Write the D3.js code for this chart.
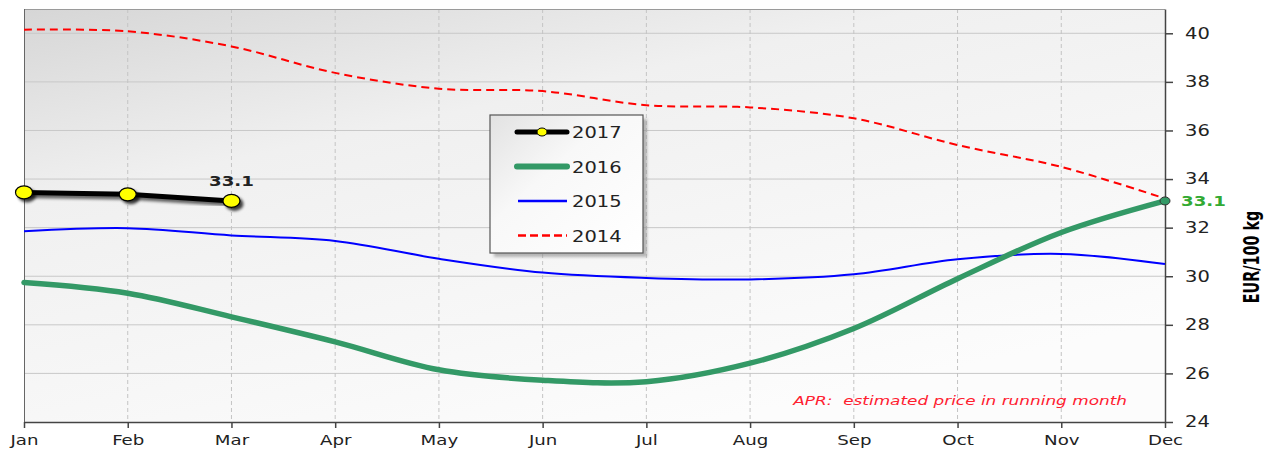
<!DOCTYPE html>
<html>
<head>
<meta charset="utf-8">
<script src="https://cdn.jsdelivr.net/npm/d3@7"></script>
<style>
  body { margin: 0; background: #fff; }
  text { font-family: "DejaVu Sans", Verdana, sans-serif; }
</style>
</head>
<body>
<div id="chart"></div>
<script>
const width = 1266
const height = 450
const sx = 1.3 // the original is stretched sideways

const months = ['Jan', 'Feb', 'Mar', 'Apr', 'May', 'Jun', 'Jul', 'Aug', 'Sep', 'Oct', 'Nov', 'Dec'];
const yTicks = [24, 26, 28, 30, 32, 34, 36, 38, 40];
const v2014 = [40.15, 40.08, 39.46, 38.37, 37.72, 37.62, 37.04, 36.95, 36.5, 35.4, 34.5, 33.2];
const v2015 = [31.85, 31.98, 31.68, 31.45, 30.72, 30.15, 29.93, 29.87, 30.08, 30.7, 30.92, 30.5];
const v2016 = [29.74, 29.3, 28.33, 27.3, 26.15, 25.72, 25.66, 26.42, 27.85, 29.9, 31.8, 33.1];
const v2017 = [33.45, 33.37, 33.1];
const legendYears = ['2017', '2016', '2015', '2014'];

const margin = {top: 9, right: 101, bottom: 28, left: 24};

const svg = d3.select('#chart').append('svg').attr('width', width).attr('height', height);

const x = d3.scalePoint().domain(months).range([margin.left, width - margin.right]);
const y = d3.scaleLinear().domain([24, 41]).range([height - margin.bottom, margin.top]);

function stretch(sel, tx, ty) {
  sel.attr('x', 0).attr('y', 0)
    .attr('transform', 'translate(' + tx + ',' + ty + ') scale(' + sx + ',1)');
}

const defs = svg.append('defs');
const grad = defs.append('linearGradient').attr('id', 'bg')
  .attr('x1', '0%').attr('y1', '0%').attr('x2', '60%').attr('y2', '100%');
grad.append('stop').attr('offset', '0%').attr('stop-color', '#d6d6d6');
grad.append('stop').attr('offset', '35%').attr('stop-color', '#f0f0f0');
grad.append('stop').attr('offset', '100%').attr('stop-color', '#fcfcfc');

const lgrad = defs.append('linearGradient').attr('id', 'lbg')
  .attr('x1', '0%').attr('y1', '0%').attr('x2', '100%').attr('y2', '100%');
lgrad.append('stop').attr('offset', '0%').attr('stop-color', '#e2e2e2');
lgrad.append('stop').attr('offset', '40%').attr('stop-color', '#f8f8f8');
lgrad.append('stop').attr('offset', '100%').attr('stop-color', '#ffffff');

const blur = defs.append('filter').attr('id', 'blur').attr('x', '-20%').attr('y', '-20%').attr('width', '140%').attr('height', '140%');
blur.append('feGaussianBlur').attr('stdDeviation', 1.5);

const x0 = x('Jan'), x1 = x('Dec');
const yTop = y(41), yBot = y(24);

// plot background
svg.append('rect')
  .attr('x', x0).attr('y', yTop)
  .attr('width', x1 - x0).attr('height', yBot - yTop)
  .attr('fill', 'url(#bg)');

// grid
svg.append('g').selectAll('line')
  .data(yTicks.slice(1))
  .enter().append('line')
  .attr('x1', x0).attr('x2', x1)
  .attr('y1', d => y(d)).attr('y2', d => y(d))
  .attr('stroke', '#c8c8c8').attr('stroke-width', 1);

svg.append('g').selectAll('line')
  .data(months.slice(1, -1))
  .enter().append('line')
  .attr('x1', d => x(d)).attr('x2', d => x(d))
  .attr('y1', yTop).attr('y2', yBot)
  .attr('stroke', '#c4c4c4').attr('stroke-width', 1)
  .attr('stroke-dasharray', '4,3');

// frame top + left
svg.append('line').attr('x1', x0).attr('x2', x1).attr('y1', yTop + 0.5).attr('y2', yTop + 0.5)
  .attr('stroke', '#9a9a9a');
svg.append('line').attr('x1', x0 + 0.5).attr('x2', x0 + 0.5).attr('y1', yTop).attr('y2', yBot)
  .attr('stroke', '#666');

// axes
const xAxis = svg.append('g')
  .attr('transform', 'translate(0,' + yBot + ')')
  .call(d3.axisBottom(x).tickSizeInner(6).tickSizeOuter(0).tickPadding(6));
xAxis.select('.domain').attr('stroke', '#444').attr('stroke-width', 1.5);
xAxis.selectAll('.tick line').attr('stroke', '#444').attr('stroke-width', 1.5);
xAxis.selectAll('text').style('font-size', '14px').attr('fill', '#222')
  .attr('dy', null).attr('y', 23)
  .attr('transform', 'scale(' + sx + ',1)');

const yAxis = svg.append('g')
  .attr('transform', 'translate(' + x1 + ',0)')
  .call(d3.axisRight(y).tickValues(yTicks).tickSizeInner(8).tickSizeOuter(0));
yAxis.select('.domain').attr('stroke', '#444').attr('stroke-width', 1.5);
yAxis.selectAll('.tick line').attr('stroke', '#444').attr('stroke-width', 1.5);
yAxis.selectAll('text').style('font-size', '15px').attr('fill', '#222')
  .attr('x', 20 / sx)
  .attr('transform', 'scale(' + sx + ',1)');

svg.append('text')
  .attr('transform', 'translate(1259,257) rotate(-90) scale(1,' + sx + ')')
  .attr('text-anchor', 'middle')
  .style('font-family', '"DejaVu Sans Condensed", "DejaVu Sans", sans-serif')
  .style('font-size', '16px').style('font-weight', 'bold')
  .text('EUR/100 kg');

const line = d3.line()
  .x((d, i) => x(months[i]))
  .y(d => y(d))
  .curve(d3.curveCatmullRom.alpha(0.5));

const straight = d3.line()
  .x((d, i) => x(months[i]))
  .y(d => y(d));

// series
svg.append('path').datum(v2014)
  .attr('d', line).attr('fill', 'none')
  .attr('stroke', '#ff0000').attr('stroke-width', 2).attr('stroke-dasharray', '8,5');

svg.append('path').datum(v2015)
  .attr('d', line).attr('fill', 'none')
  .attr('stroke', '#0000ff').attr('stroke-width', 2);

svg.append('path').datum(v2016)
  .attr('d', line).attr('fill', 'none')
  .attr('stroke', '#339966').attr('stroke-width', 5.5).attr('stroke-linecap', 'round');

// green end marker
svg.append('ellipse')
  .attr('cx', x('Dec')).attr('cy', y(v2016[11])).attr('rx', 5).attr('ry', 4)
  .attr('fill', '#339966').attr('stroke', '#333').attr('stroke-width', 1);

svg.append('text')
  .attr('fill', '#33aa33').style('font-size', '14px').style('font-weight', 'bold')
  .text('33.1')
  .call(stretch, x('Dec') + 16, y(v2016[11]) + 5);

// 2017 with shadow
const g17 = svg.append('g');
g17.append('path').datum(v2017)
  .attr('d', straight).attr('fill', 'none')
  .attr('transform', 'translate(3,3)')
  .attr('stroke', '#000').attr('stroke-opacity', 0.6).attr('stroke-width', 5)
  .attr('filter', 'url(#blur)');
g17.selectAll('ellipse.sh').data(v2017).enter().append('ellipse')
  .attr('class', 'sh')
  .attr('cx', (d, i) => x(months[i]) + 3).attr('cy', d => y(d) + 3).attr('rx', 9).attr('ry', 7)
  .attr('fill', '#000').attr('opacity', 0.75).attr('filter', 'url(#blur)');
g17.append('path').datum(v2017)
  .attr('d', straight).attr('fill', 'none')
  .attr('stroke', '#000').attr('stroke-width', 5);
g17.selectAll('ellipse.pt').data(v2017).enter().append('ellipse')
  .attr('class', 'pt')
  .attr('cx', (d, i) => x(months[i])).attr('cy', d => y(d)).attr('rx', 8.5).attr('ry', 6.5)
  .attr('fill', '#ffff00').attr('stroke', '#000').attr('stroke-width', 1.2);

svg.append('text')
  .attr('text-anchor', 'middle')
  .attr('fill', '#222').style('font-size', '14px').style('font-weight', 'bold')
  .text('33.1')
  .call(stretch, x('Mar'), y(v2017[2]) - 15);

// note
svg.append('text')
  .attr('text-anchor', 'end')
  .attr('fill', '#ff2030').style('font-size', '13px').style('font-style', 'italic')
  .attr('xml:space', 'preserve')
  .text('APR:  estimated price in running month')
  .call(stretch, 1127, 405);

// legend
const lg = svg.append('g').attr('transform', 'translate(490,115)');
lg.append('rect').attr('x', 4).attr('y', 4).attr('width', 153).attr('height', 138)
  .attr('fill', '#888').attr('opacity', 0.6).attr('filter', 'url(#blur)');
lg.append('rect').attr('x', 0).attr('y', 0).attr('width', 153).attr('height', 138)
  .attr('fill', 'url(#lbg)').attr('stroke', '#555').attr('stroke-width', 1.2);

const legendStyle = {
  '2017': {color: '#000', w: 5, dash: null},
  '2016': {color: '#339966', w: 6, dash: null},
  '2015': {color: '#0000ff', w: 2.5, dash: null},
  '2014': {color: '#ff0000', w: 2.5, dash: '8,4'}
};

const items = lg.selectAll('g.item').data(legendYears).enter().append('g')
  .attr('class', 'item')
  .attr('transform', (d, i) => 'translate(0,' + (17 + i * 34.5) + ')');
items.append('line')
  .attr('x1', d => d === '2015' || d === '2014' ? 28 : 27)
  .attr('x2', d => d === '2015' || d === '2014' ? 77 : 77)
  .attr('y1', 0).attr('y2', 0)
  .attr('stroke', d => legendStyle[d].color)
  .attr('stroke-width', d => legendStyle[d].w)
  .attr('stroke-dasharray', d => legendStyle[d].dash)
  .attr('stroke-linecap', d => d === '2017' || d === '2016' ? 'round' : 'butt');
items.filter(d => d === '2017').append('ellipse')
  .attr('cx', 52).attr('cy', 0).attr('rx', 5).attr('ry', 4)
  .attr('fill', '#ffff00').attr('stroke', '#000').attr('stroke-width', 1);
items.append('text')
  .attr('fill', '#222').style('font-size', '15px')
  .text(d => d)
  .call(stretch, 82, 6);
</script>
</body>
</html>
